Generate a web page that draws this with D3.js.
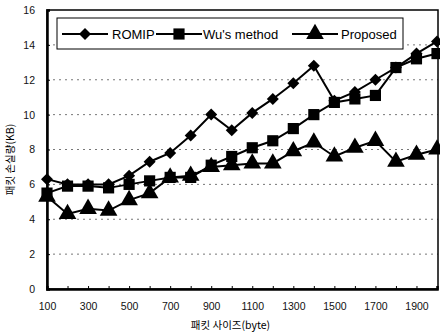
<!DOCTYPE html>
<meta charset="utf-8">
<style>
body { margin: 0; background: #fff; }
svg { display: block; font-family: "Liberation Sans", Arial, sans-serif; }
.tick text { font-size: 10.5px; fill: #111; }
</style>
<body>
<script src="https://d3js.org/d3.v7.min.js"></script>
<script>

var sizes = [100, 200, 300, 400, 500, 600, 700, 800, 900, 1000,
             1100, 1200, 1300, 1400, 1500, 1600, 1700, 1800, 1900, 2000];
var romip = [6.3, 6.0, 6.0, 6.0, 6.5, 7.3, 7.8, 8.8, 10.0, 9.1,
             10.1, 10.9, 11.8, 12.8, 10.8, 11.3, 12.0, 12.7, 13.5, 14.2];
var wu = [5.5, 5.9, 5.9, 5.8, 6.0, 6.2, 6.4, 6.4, 7.1, 7.6,
          8.1, 8.5, 9.2, 10.0, 10.7, 10.9, 11.1, 12.7, 13.2, 13.5];
var proposed = [5.3, 4.3, 4.6, 4.5, 5.1, 5.5, 6.4, 6.5, 7.0, 7.1,
                7.2, 7.2, 7.9, 8.4, 7.6, 8.1, 8.5, 7.3, 7.7, 8.0];
var seriesNames = ["ROMIP", "Wu's method", "Proposed"];
var xTickLabels = [100, 300, 500, 700, 900, 1100, 1300, 1500, 1700, 1900];
var yTickLabels = [0, 2, 4, 6, 8, 10, 12, 14, 16];

var margin = {top: 10, right: 2, bottom: 47, left: 47},
    width = 440 - margin.left - margin.right,
    height = 336 - margin.top - margin.bottom;

var svg = d3.select("body").append("svg")
    .attr("width", 440)
    .attr("height", 336)
  .append("g")
    .attr("transform", "translate(" + margin.left + "," + margin.top + ")");

var x = d3.scaleLinear().domain([100, 2000]).range([0, width - 1]);
var y = d3.scaleLinear().domain([0, 16]).range([height, 0]);

// dotted grid
svg.selectAll(".grid")
    .data(yTickLabels.filter(function(d) { return d > 0 && d < 16; }))
  .enter().append("line")
    .attr("x1", 0).attr("x2", width)
    .attr("y1", function(d) { return y(d); })
    .attr("y2", function(d) { return y(d); })
    .attr("stroke", "#777")
    .attr("stroke-width", 1)
    .attr("stroke-dasharray", "2,4");

// frame
svg.append("rect")
    .attr("width", width).attr("height", height)
    .attr("fill", "none").attr("stroke", "#000").attr("stroke-width", 1.5);

var xAxis = d3.axisBottom(x).tickValues(sizes).tickSize(-3).tickPadding(14)
    .tickFormat(function(d) { return xTickLabels.indexOf(d) >= 0 ? d : ""; });
var yAxis = d3.axisLeft(y).tickValues(yTickLabels).tickSize(-3).tickPadding(12);

svg.append("g")
    .attr("transform", "translate(0," + height + ")")
    .call(xAxis)
    .call(function(g) { g.select(".domain").attr("stroke-width", 2.5); });

svg.append("g")
    .call(yAxis)
    .call(function(g) { g.select(".domain").attr("stroke-width", 2.5); });

svg.append("text")
    .attr("text-anchor", "middle")
    .attr("transform", "translate(-33," + (height / 2 + 10) + ")rotate(-90)")
    .style("font-size", "10.5px")
    .style("font-family", "'Noto Sans CJK KR', sans-serif")
    .text("패킷 손실량(KB)");

svg.append("text")
    .attr("text-anchor", "middle")
    .attr("transform", "translate(" + (width / 2 - 12) + "," + (height + 40) + ")")
    .style("font-size", "10.5px")
    .style("font-family", "'Noto Sans CJK KR', sans-serif")
    .text("패킷 사이즈(byte)");

var line = d3.line()
    .x(function(d, i) { return x(sizes[i]); })
    .y(function(d) { return y(d); });

// diamond = square turned 45 degrees
var symbols = [d3.symbolSquare, d3.symbolSquare, d3.symbolTriangle];
var symSizes = [72, 125, 135];
var symRot = [45, 0, 0];
var allSeries = [romip, wu, proposed];

allSeries.forEach(function(vals, k) {
  svg.append("path")
      .datum(vals)
      .attr("fill", "none")
      .attr("stroke", "#000")
      .attr("stroke-width", 2)
      .attr("d", line);
});

allSeries.forEach(function(vals, k) {
  svg.selectAll(".pt" + k)
      .data(vals)
    .enter().append("path")
      .attr("class", "pt" + k)
      .attr("d", d3.symbol().type(symbols[k]).size(symSizes[k]))
      .attr("transform", function(d, i) {
        return "translate(" + x(sizes[i]) + "," + y(d) + ")rotate(" + symRot[k] + ")";
      })
      .attr("fill", "#000");
});

// legend
var legend = svg.append("g").attr("transform", "translate(10,8)");
legend.append("rect")
    .attr("width", 346).attr("height", 31)
    .attr("fill", "#fff").attr("stroke", "#000").attr("stroke-width", 1);

var legX = [5, 99, 235];
var legTextX = [55, 146, 284];
seriesNames.forEach(function(name, k) {
  var g = legend.append("g").attr("transform", "translate(" + legX[k] + ",16)");
  g.append("line").attr("x1", 0).attr("x2", 46).attr("stroke", "#000").attr("stroke-width", 2);
  g.append("path")
      .attr("d", d3.symbol().type(symbols[k]).size(symSizes[k]))
      .attr("transform", "translate(23,0)rotate(" + symRot[k] + ")")
      .attr("fill", "#000");
  legend.append("text")
      .attr("x", legTextX[k])
      .attr("y", 20.5)
      .style("font-size", "13px")
      .text(name);
});

</script>
